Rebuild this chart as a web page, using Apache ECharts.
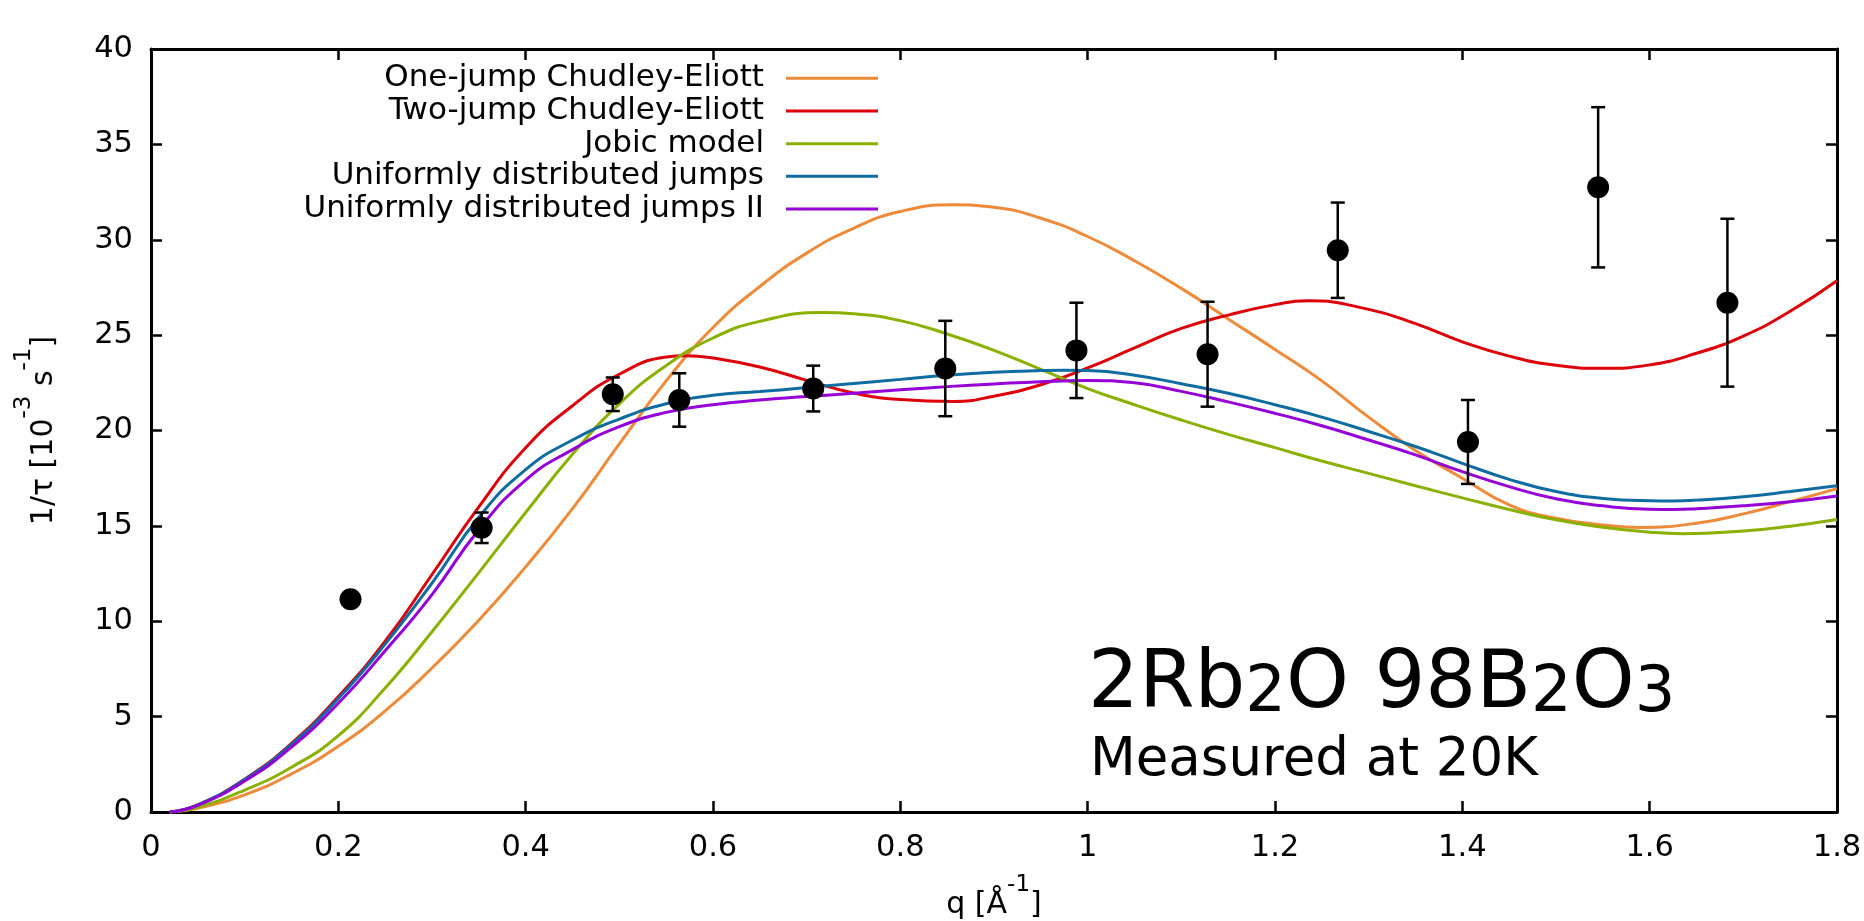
<!DOCTYPE html>
<html>
<head>
<meta charset="utf-8">
<script src="https://cdn.jsdelivr.net/npm/echarts@6/dist/echarts.min.js"></script>
<style>
html,body{margin:0;padding:0;background:#fff;}
#chart{width:1864px;height:921px;}
</style>
</head>
<body>
<div id="chart"></div>
<script>
// ---- data ----
const qGrid = [0.02,0.05,0.10,0.15,0.20,0.25,0.30,0.35,0.40,0.45,0.50,0.55,0.60,0.65,0.70,0.75,0.80,0.85,0.90,0.95,1.00,1.05,1.10,1.15,1.20,1.25,1.30,1.35,1.40,1.45,1.50,1.55,1.60,1.65,1.70,1.75,1.80];
const oneJumpCE = [0,0.2,0.9,2.0,3.45,5.3,7.55,10.05,12.85,15.9,19.3,22.6,25.4,27.55,29.3,30.6,31.48,31.81,31.7,31.13,30.17,28.9,27.45,25.85,24.25,22.6,20.7,18.95,17.5,16.1,15.4,15.05,14.93,15.14,15.63,16.27,16.95];
const twoJumpCE = [0,0.38,1.72,3.6,6.05,8.95,12.45,16.0,19.1,21.3,22.95,23.85,23.8,23.33,22.63,21.97,21.62,21.53,21.8,22.4,23.28,24.33,25.35,26.05,26.6,26.78,26.35,25.6,24.65,23.9,23.42,23.26,23.44,24.05,24.95,26.25,27.85];
const jobicModel = [0,0.25,1.15,2.35,4.0,6.5,9.45,12.55,15.7,18.75,21.4,23.4,24.85,25.72,26.15,26.12,25.76,25.06,24.2,23.2,22.2,21.35,20.55,19.8,19.1,18.4,17.75,17.1,16.47,15.86,15.32,14.93,14.67,14.6,14.73,14.98,15.33];
const uniformJumps = [0,0.37,1.7,3.55,5.95,8.8,12.0,15.45,17.95,19.5,20.6,21.4,21.85,22.04,22.25,22.47,22.68,22.9,23.05,23.14,23.14,22.9,22.45,21.95,21.35,20.7,19.95,19.16,18.28,17.44,16.8,16.44,16.32,16.35,16.53,16.8,17.1];
const uniformJumpsII = [0,0.35,1.62,3.4,5.7,8.45,11.4,14.8,17.4,19.0,20.2,20.95,21.35,21.6,21.78,21.95,22.13,22.3,22.44,22.56,22.62,22.5,22.05,21.5,20.9,20.25,19.5,18.72,17.84,17.06,16.42,16.05,15.87,15.9,16.05,16.27,16.57];

// turning points of each curve: [q, value]
const oneJumpCEExtrema = [[0.857,31.83],[1.59,14.92]];
const twoJumpCEExtrema = [[0.571,23.92],[0.857,21.52],[1.235,26.8]];
const jobicModelExtrema = [[0.718,26.18],[1.635,14.59]];
const uniformJumpsExtrema = [[0.975,23.16],[1.625,16.31]];
const uniformJumpsIIExtrema = [[1.625,15.86]];

const pointQ = [0.213,0.353,0.493,0.564,0.707,0.848,0.988,1.128,1.267,1.406,1.545,1.683];
const pointV = [11.15,14.9,21.9,21.6,22.2,23.25,24.2,24.0,29.45,19.4,32.75,26.7];
const pointErr = [0.2,0.8,0.88,1.4,1.2,2.5,2.5,2.75,2.5,2.2,4.2,4.4];

const seriesNames = ['One-jump Chudley-Eliott','Two-jump Chudley-Eliott','Jobic model','Uniformly distributed jumps','Uniformly distributed jumps II'];
const seriesValues = [oneJumpCE, twoJumpCE, jobicModel, uniformJumps, uniformJumpsII];
const seriesExtrema = [oneJumpCEExtrema, twoJumpCEExtrema, jobicModelExtrema, uniformJumpsExtrema, uniformJumpsIIExtrema];
const seriesColors = ['#ed8b3a','#dd000a','#8ab000','#0e6ca0','#9500d6'];

const xTicks = {min:0, max:1.8, interval:0.2};
const yTicks = {min:0, max:40, interval:5};

// ---- chart ----
const FONT = 'DejaVu Sans';
const chart = echarts.init(document.getElementById('chart'), null, {renderer:'canvas'});

const axisLineStyle = {color:'#000', width:3};
const tickStyle = {color:'#000', width:2.5};

function buildCurve(values, extrema) {
  const pts = [];
  qGrid.forEach((q, j) => {
    if (!extrema.some(e => Math.abs(e[0] - q) < 0.02 && Math.abs(e[0] - q) > 1e-9)) pts.push([q, values[j]]);
  });
  extrema.forEach(e => { if (!pts.some(p => Math.abs(p[0] - e[0]) < 1e-9)) pts.push([e[0], e[1]]); });
  pts.sort((a, b) => a[0] - b[0]);
  return pts;
}

const lineSeries = seriesNames.map((name, i) => ({
  name: name,
  type: 'line',
  xAxisIndex: 0, yAxisIndex: 0,
  data: buildCurve(seriesValues[i], seriesExtrema[i]),
  showSymbol: false,
  symbol: 'none',
  smooth: 0.5,
  lineStyle: {color: seriesColors[i], width: 3},
  itemStyle: {color: seriesColors[i]},
  z: 2,
  silent: true
}));

const errData = pointQ.map((q, i) => [q, pointV[i], pointErr[i]]);

const nameRich = {
  a:{fontSize:30, lineHeight:46, verticalAlign:'bottom', fontFamily:FONT, color:'#000'},
  p:{fontSize:23, lineHeight:28, verticalAlign:'top', fontFamily:FONT, color:'#000'}
};

const option = {
  animation: false,
  backgroundColor: '#fff',
  grid: {left:151, right:27, top:49, bottom:109, containLabel:false, outerBoundsMode:'none'},
  xAxis: [{
    type:'value', position:'bottom', min:xTicks.min, max:xTicks.max, interval:xTicks.interval,
    axisLine:{show:true, onZero:false, lineStyle:axisLineStyle},
    axisTick:{show:true, inside:true, length:11, lineStyle:tickStyle},
    splitLine:{show:false},
    axisLabel:{show:true, margin:21, color:'#000', fontSize:30.5, fontFamily:FONT},
    name:'{a|q [Å}{p|-1}{a|]}',
    nameLocation:'middle', nameGap:62,
    nameTextStyle:{color:'#000', fontFamily:FONT, rich:nameRich}
  },{
    type:'value', position:'top', min:xTicks.min, max:xTicks.max, interval:xTicks.interval,
    axisLine:{show:true, onZero:false, lineStyle:axisLineStyle},
    axisTick:{show:true, inside:true, length:11, lineStyle:tickStyle},
    splitLine:{show:false}, axisLabel:{show:false}
  }],
  yAxis: [{
    type:'value', position:'left', min:yTicks.min, max:yTicks.max, interval:yTicks.interval,
    axisLine:{show:true, onZero:false, lineStyle:axisLineStyle},
    axisTick:{show:true, inside:true, length:11, lineStyle:tickStyle},
    splitLine:{show:false},
    axisLabel:{show:true, margin:18, color:'#000', fontSize:30.5, fontFamily:FONT},
    name:'{a|1/τ [10}{p|-3}{a| s}{p|-1}{a|]}',
    nameLocation:'middle', nameRotate:90, nameGap:92,
    nameTextStyle:{color:'#000', fontFamily:FONT, rich:nameRich}
  },{
    type:'value', position:'right', min:yTicks.min, max:yTicks.max, interval:yTicks.interval,
    axisLine:{show:true, onZero:false, lineStyle:axisLineStyle},
    axisTick:{show:true, inside:true, length:11, lineStyle:tickStyle},
    splitLine:{show:false}, axisLabel:{show:false}
  }],
  legend: {
    show:true, orient:'vertical', right:986, top:62, padding:0,
    align:'right', itemGap:0.2, itemWidth:92, itemHeight:3, icon:'rect',
    selectedMode:false,
    data: seriesNames,
    textStyle:{color:'#000', fontSize:31, fontFamily:FONT, lineHeight:32.5, padding:[0,17,0,0]}
  },
  series: lineSeries.concat([
    {
      type:'custom', name:'errorbars', xAxisIndex:0, yAxisIndex:0,
      data: errData, encode:{x:0, y:1}, z:3, silent:true,
      renderItem: function(params, api){
        const x = api.value(0), y = api.value(1), e = api.value(2);
        const top = api.coord([x, y + e]);
        const bot = api.coord([x, y - e]);
        const hw = 7;
        const st = {stroke:'#000', lineWidth:2.5};
        return {type:'group', children:[
          {type:'line', shape:{x1:top[0], y1:top[1], x2:bot[0], y2:bot[1]}, style:st},
          {type:'line', shape:{x1:top[0]-hw, y1:top[1], x2:top[0]+hw, y2:top[1]}, style:st},
          {type:'line', shape:{x1:bot[0]-hw, y1:bot[1], x2:bot[0]+hw, y2:bot[1]}, style:st}
        ]};
      }
    },
    {
      type:'scatter', name:'data', xAxisIndex:0, yAxisIndex:0,
      data: pointQ.map((q, i) => [q, pointV[i]]),
      symbol:'circle', symbolSize:22, itemStyle:{color:'#000', opacity:1}, z:4, silent:true
    }
  ]),
  graphic: [
    {
      type:'text', left:1088, top:646, z:10,
      style:{
        text:'{a|2Rb}{s|2}{a|O 98B}{s|2}{a|O}{s|3}',
        fill:'#000',
        rich:{
          a:{fontSize:80, lineHeight:80, verticalAlign:'bottom', fontFamily:FONT, fill:'#000'},
          s:{fontSize:64, lineHeight:33, verticalAlign:'bottom', fontFamily:FONT, fill:'#000'}
        }
      }
    },
    {
      type:'text', left:1090, top:735, z:10,
      style:{text:'Measured at 20K', fill:'#000', fontSize:53, lineHeight:53, fontFamily:FONT}
    }
  ]
};
chart.setOption(option);
</script>
</body>
</html>
